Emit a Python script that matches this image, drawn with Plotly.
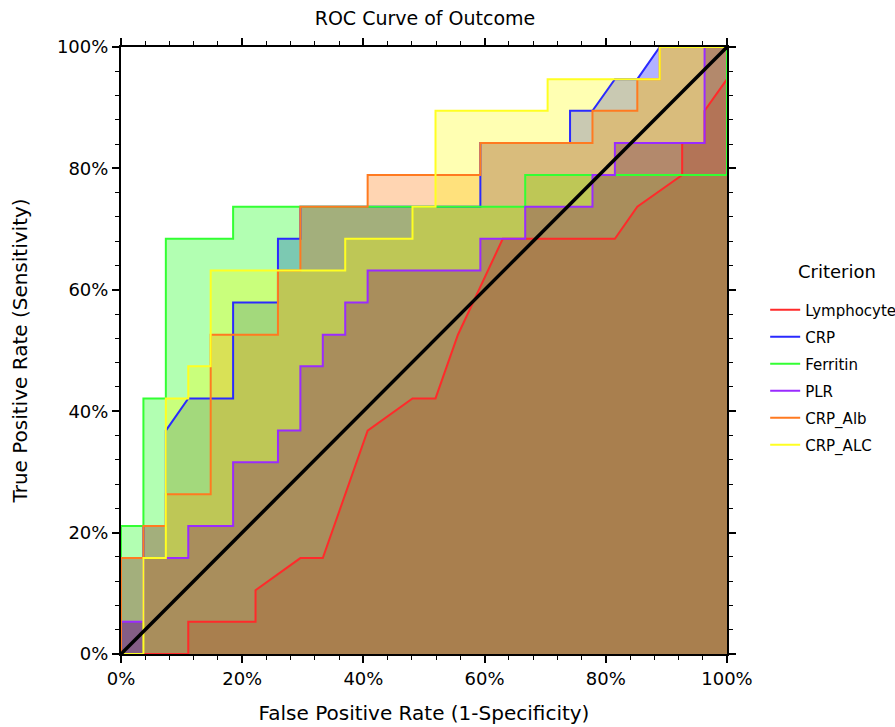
import plotly.graph_objects as go

# ---- data (percent) ----
NAMES = ["Lymphocyte", "CRP", "Ferritin", "PLR", "CRP_Alb", "CRP_ALC"]

LYMPH_FPR = [0, 11.1, 11.1, 22.2, 22.2, 29.6, 33.3, 37.0, 40.7, 48.1, 51.9, 55.6, 63.0, 81.5, 85.2, 92.6, 92.6, 96.3, 96.3, 100, 100]
LYMPH_TPR = [0, 0, 5.3, 5.3, 10.5, 15.8, 15.8, 26.3, 36.8, 42.1, 42.1, 52.6, 68.4, 68.4, 73.7, 78.9, 84.2, 84.2, 89.5, 94.7, 100]

CRP_FPR = [0, 0, 3.7, 3.7, 7.4, 7.4, 11.1, 18.5, 18.5, 25.9, 25.9, 29.6, 29.6, 59.3, 59.3, 74.1, 74.1, 77.8, 81.5, 85.2, 88.9, 100]
CRP_TPR = [0, 15.8, 15.8, 21.1, 21.1, 36.8, 42.1, 42.1, 57.9, 57.9, 68.4, 68.4, 73.7, 73.7, 84.2, 84.2, 89.5, 89.5, 94.7, 94.7, 100, 100]

FERR_FPR = [0, 0, 3.7, 3.7, 7.4, 7.4, 18.5, 18.5, 66.7, 66.7, 100, 100]
FERR_TPR = [0, 21.1, 21.1, 42.1, 42.1, 68.4, 68.4, 73.7, 73.7, 78.9, 78.9, 100]

PLR_FPR = [0, 0, 3.7, 3.7, 11.1, 11.1, 18.5, 18.5, 25.9, 25.9, 29.6, 29.6, 33.3, 33.3, 37.0, 37.0, 40.7, 40.7, 59.3, 59.3, 66.7, 66.7, 77.8, 77.8, 81.5, 81.5, 96.3, 96.3, 100]
PLR_TPR = [0, 5.3, 5.3, 15.8, 15.8, 21.1, 21.1, 31.6, 31.6, 36.8, 36.8, 47.4, 47.4, 52.6, 52.6, 57.9, 57.9, 63.2, 63.2, 68.4, 68.4, 73.7, 73.7, 78.9, 78.9, 84.2, 84.2, 100, 100]

ALB_FPR = [0, 0, 3.7, 3.7, 7.4, 7.4, 14.8, 14.8, 25.9, 25.9, 29.6, 29.6, 40.7, 40.7, 59.3, 59.3, 77.8, 77.8, 85.2, 85.2, 88.9, 88.9, 100]
ALB_TPR = [0, 15.8, 15.8, 21.1, 21.1, 26.3, 26.3, 52.6, 52.6, 63.2, 63.2, 73.7, 73.7, 78.9, 78.9, 84.2, 84.2, 89.5, 89.5, 94.7, 94.7, 100, 100]

ALC_FPR = [0, 3.7, 3.7, 7.4, 7.4, 11.1, 11.1, 14.8, 14.8, 37.0, 37.0, 48.1, 48.1, 51.9, 51.9, 70.4, 70.4, 88.9, 88.9, 100]
ALC_TPR = [0, 0, 15.8, 15.8, 42.1, 42.1, 47.4, 47.4, 63.2, 63.2, 68.4, 68.4, 73.7, 73.7, 89.5, 89.5, 94.7, 94.7, 100, 100]

REF_X = [0, 100]
REF_Y = [0, 100]

TICK_VALS = [0, 20, 40, 60, 80, 100]

SERIES = [
    (LYMPH_FPR, LYMPH_TPR),
    (CRP_FPR, CRP_TPR),
    (FERR_FPR, FERR_TPR),
    (PLR_FPR, PLR_TPR),
    (ALB_FPR, ALB_TPR),
    (ALC_FPR, ALC_TPR),
]
LINE_COLORS = ["#ff2a2a", "#2a2aff", "#33ff33", "#9a2bff", "#ff7a20", "#ffff22"]
FILL_COLORS = [
    "rgba(255,0,0,0.60)",
    "rgba(0,0,255,0.30)",
    "rgba(0,255,0,0.30)",
    "rgba(50,6,200,0.60)",
    "rgba(255,115,0,0.30)",
    "rgba(255,255,0,0.30)",
]

FONT = "DejaVu Sans, Verdana, sans-serif"

fig = go.Figure()

# fills first
for (xs, ys), fc in zip(SERIES, FILL_COLORS):
    fig.add_trace(go.Scatter(x=xs, y=ys, mode="none", fill="tozeroy",
                             fillcolor=fc, showlegend=False, hoverinfo="skip"))

# lines on top
for (xs, ys), name, lc in zip(SERIES, NAMES, LINE_COLORS):
    fig.add_trace(go.Scatter(x=xs, y=ys, mode="lines", name=name,
                             line=dict(color=lc, width=2),
                             legendgroup=name))

# reference diagonal
fig.add_trace(go.Scatter(x=REF_X, y=REF_Y, mode="lines", showlegend=False,
                         line=dict(color="black", width=3.5)))

axis_common = dict(
    range=[0, 100],
    tickvals=TICK_VALS,
    ticktext=[f"{v}%" for v in TICK_VALS],
    ticks="outside", ticklen=7, tickwidth=1.5, tickcolor="black",
    minor=dict(dtick=4, ticks="outside", ticklen=4, tickwidth=1.2, tickcolor="black"),
    showline=True, linecolor="black", linewidth=2, mirror="ticks",
    showgrid=False, zeroline=False, automargin=False,
    tickfont=dict(family=FONT, size=18, color="black"),
)

fig.update_layout(
    width=895, height=727,
    margin=dict(l=121, r=168, t=47, b=73, autoexpand=False),
    paper_bgcolor="white", plot_bgcolor="white",
    title=dict(text="ROC Curve of Outcome", x=425 / 895, xanchor="center",
               y=1 - 18 / 727, yanchor="middle", yref="container",
               font=dict(family=FONT, size=19, color="black")),
    xaxis=dict(**axis_common,
               title=dict(text="False Positive Rate (1-Specificity)",
                          font=dict(family=FONT, size=20, color="black"), standoff=18)),
    yaxis=dict(**axis_common,
               title=dict(text="True Positive Rate (Sensitivity)",
                          font=dict(family=FONT, size=20, color="black"), standoff=24)),
    legend=dict(
        font=dict(family=FONT, size=15, color="black"),
        x=1.063, xanchor="left", y=0.594, yanchor="top",
        bgcolor="rgba(0,0,0,0)", traceorder="grouped", tracegroupgap=4.5,
        itemwidth=30,
    ),
    annotations=[dict(text="Criterion", xref="paper", yref="paper",
                      x=(837 - 121) / 606, y=(654 - 271) / 607,
                      xanchor="center", yanchor="middle", showarrow=False,
                      font=dict(family=FONT, size=18, color="black"))],
)

fig.write_html("out.html")
